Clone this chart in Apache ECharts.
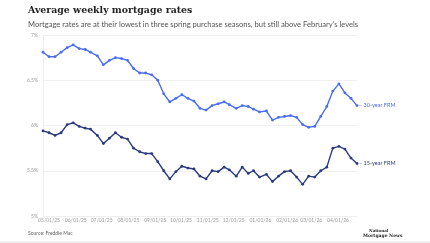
<!DOCTYPE html>
<html>
<head>
<meta charset="utf-8">
<script src="https://cdn.jsdelivr.net/npm/echarts@6/dist/echarts.min.js"></script>
<style>
html, body { margin: 0; padding: 0; background: #fff; }
#chart { width: 430px; height: 243px; }
</style>
</head>
<body>
<div id="chart"></div>
<script>
// weekly Freddie Mac survey dates
const dates = [
    '2025-04-24', '2025-05-01', '2025-05-08', '2025-05-15', '2025-05-22', '2025-05-29',
    '2025-06-05', '2025-06-12', '2025-06-18', '2025-06-26',
    '2025-07-03', '2025-07-10', '2025-07-17', '2025-07-24', '2025-07-31',
    '2025-08-07', '2025-08-14', '2025-08-21', '2025-08-28',
    '2025-09-04', '2025-09-11', '2025-09-18', '2025-09-25',
    '2025-10-02', '2025-10-09', '2025-10-16', '2025-10-23', '2025-10-30',
    '2025-11-06', '2025-11-13', '2025-11-20', '2025-11-26',
    '2025-12-04', '2025-12-11', '2025-12-18', '2025-12-24', '2025-12-31',
    '2026-01-08', '2026-01-15', '2026-01-22', '2026-01-29',
    '2026-02-05', '2026-02-12', '2026-02-19', '2026-02-26',
    '2026-03-05', '2026-03-12', '2026-03-19', '2026-03-26',
    '2026-04-02', '2026-04-09', '2026-04-16', '2026-04-23'
];
const rate30 = [
    6.81, 6.76, 6.76, 6.81, 6.86, 6.89,
    6.85, 6.84, 6.81, 6.77,
    6.67, 6.72, 6.75, 6.74, 6.72,
    6.63, 6.58, 6.58, 6.56,
    6.50, 6.35, 6.26, 6.30,
    6.34, 6.30, 6.27, 6.19, 6.17,
    6.22, 6.24, 6.26, 6.23,
    6.19, 6.22, 6.21, 6.18, 6.15,
    6.16, 6.06, 6.09, 6.10,
    6.11, 6.09, 6.01, 5.98,
    5.99, 6.10, 6.21, 6.38,
    6.46, 6.36, 6.30, 6.22
];
const rate15 = [
    5.94, 5.92, 5.89, 5.92, 6.01, 6.03,
    5.99, 5.97, 5.96, 5.89,
    5.80, 5.86, 5.92, 5.87, 5.85,
    5.75, 5.71, 5.69, 5.69,
    5.60, 5.50, 5.41, 5.49,
    5.55, 5.53, 5.52, 5.44, 5.41,
    5.50, 5.49, 5.54, 5.51,
    5.44, 5.54, 5.47, 5.50, 5.43,
    5.46, 5.38, 5.44, 5.49,
    5.50, 5.43, 5.35, 5.44,
    5.43, 5.50, 5.54, 5.75,
    5.77, 5.74, 5.64, 5.58
];
const tickLabels = [
    '2025-05-01', '2025-06-01', '2025-07-01', '2025-08-01', '2025-09-01', '2025-10-01',
    '2025-11-01', '2025-12-01', '2026-01-01', '2026-02-01', '2026-03-01', '2026-04-01'
];
const seriesNames = ['30-year FRM', '15-year FRM'];
const colors = ['#4a6cf0', '#2b3a7e'];

const toTime = (s) => {
    const [y, m, d] = s.split('-').map(Number);
    return new Date(y, m - 1, d).getTime();
};
const pad = (n) => (n < 10 ? '0' : '') + n;
const fmtDate = (v) => {
    const d = new Date(v);
    return pad(d.getMonth() + 1) + '/' + pad(d.getDate()) + '/' + String(d.getFullYear()).slice(2);
};

const makeSeries = (name, values, color) => ({
    name: name,
    type: 'line',
    data: values.map((v, i) => [toTime(dates[i]), v]),
    symbol: 'circle',
    symbolSize: 2.8,
    lineStyle: { width: 1.4, color: color },
    itemStyle: { color: color },
    endLabel: {
        show: true,
        formatter: '– ' + name,
        color: color,
        fontFamily: 'Lato',
        fontSize: 5.5,
        distance: 2
    },
    animation: false
});

const myChart = echarts.init(document.getElementById('chart'));
const option = {
    backgroundColor: '#fff',
    title: {
        left: 28,
        top: 4.5,
        padding: 0,
        text: 'Average weekly mortgage rates',
        subtext: "Mortgage rates are at their lowest in three spring purchase seasons, but still above February's levels",
        itemGap: 4,
        textStyle: {
            fontFamily: 'DejaVu Serif',
            fontWeight: 'bold',
            fontSize: 9.4,
            lineHeight: 12,
            color: '#222'
        },
        subtextStyle: {
            fontFamily: 'Lato',
            fontSize: 7.6,
            lineHeight: 9,
            color: '#555'
        }
    },
    grid: {
        left: 43,
        right: 73,
        top: 35,
        bottom: 27
    },
    xAxis: {
        type: 'value',
        min: toTime(dates[0]),
        max: toTime(dates[dates.length - 1]),
        axisLine: { show: true, lineStyle: { color: '#eeeeee' } },
        axisTick: { show: false },
        splitLine: { show: false },
        axisLabel: {
            customValues: tickLabels.map(toTime),
            formatter: (v) => fmtDate(v),
            fontFamily: 'Lato',
            fontSize: 5,
            color: '#999',
            margin: 2,
            hideOverlap: false
        }
    },
    yAxis: {
        type: 'value',
        min: 5,
        max: 7,
        interval: 0.5,
        axisLine: { show: true, lineStyle: { color: '#eeeeee' } },
        axisTick: { show: false },
        splitLine: { lineStyle: { color: '#f0f0f0' } },
        axisLabel: {
            formatter: (v) => v + '%',
            fontFamily: 'Lato',
            fontSize: 5,
            color: '#999',
            margin: 5
        }
    },
    graphic: [
        {
            type: 'text',
            left: 28,
            top: 231,
            style: { text: 'Source: Freddie Mac', font: '5px Lato', fill: '#666' }
        },
        {
            type: 'text',
            left: 369,
            top: 229,
            style: { text: 'National', font: 'bold 4px "DejaVu Serif"', fill: '#222' }
        },
        {
            type: 'text',
            left: 363,
            top: 233.5,
            style: { text: 'Mortgage News', font: 'bold 4.5px "DejaVu Serif"', fill: '#222' }
        },
        {
            type: 'rect',
            shape: { x: 0, y: 241, width: 430, height: 2 },
            style: { fill: '#eeeeee' }
        }
    ],
    series: [
        makeSeries(seriesNames[0], rate30, colors[0]),
        makeSeries(seriesNames[1], rate15, colors[1])
    ]
};
myChart.setOption(option);
</script>
</body>
</html>
